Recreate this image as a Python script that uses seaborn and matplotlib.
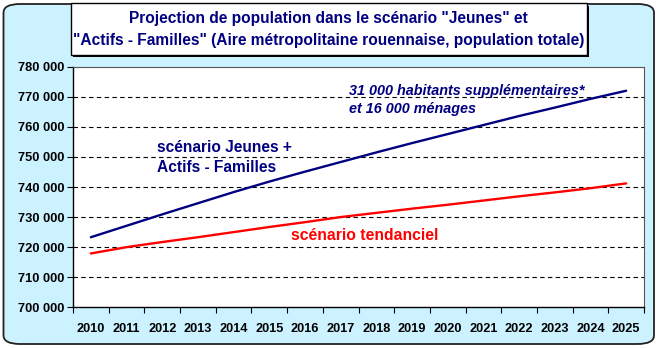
import matplotlib
matplotlib.use("Agg")
import matplotlib.pyplot as plt
import seaborn as sns
import pandas as pd
from matplotlib.patches import FancyBboxPatch, Rectangle
from matplotlib.ticker import FuncFormatter

years = [2010, 2011, 2012, 2013, 2014, 2015, 2016, 2017,
         2018, 2019, 2020, 2021, 2022, 2023, 2024, 2025]
jeunes_actifs = [723300, 727100, 730900, 734600, 738300, 741800, 745100, 748300,
                 751500, 754600, 757600, 760600, 763600, 766400, 769300, 772000]
tendanciel = [717900, 720000, 721700, 723300, 725000, 726700, 728300, 730000,
              731400, 732800, 734100, 735500, 736900, 738200, 739600, 741200]
y_ticks = [700000, 710000, 720000, 730000, 740000, 750000, 760000, 770000, 780000]

sns.set_theme(style="white")
plt.rcParams['font.family'] = ['Liberation Sans', 'DejaVu Sans']

W, H = 660, 348
fig = plt.figure(figsize=(W / 100, H / 100), dpi=100)
fig.patch.set_facecolor('white')

# outer rounded background
bg = FancyBboxPatch((3.5 / W, 4 / H), (654 - 3.5) / W, (346 - 4 - 2) / H,
                    boxstyle="round,pad=0,rounding_size=0.025",
                    transform=fig.transFigure, facecolor='#CCF2FF',
                    edgecolor='#222222', linewidth=1.3, zorder=-10)
fig.patches.append(bg)

# title box with shadow
bx0, bx1, by0, by1 = 70.7, 586.7, 3.5, 54.5
shadow = Rectangle(((bx0 + 2.5) / W, 1 - (by1 + 2.5) / H), (bx1 - bx0) / W, (by1 - by0) / H,
                   transform=fig.transFigure, facecolor='black', edgecolor='none', zorder=-5)
fig.patches.append(shadow)
tbox = Rectangle((bx0 / W, 1 - by1 / H), (bx1 - bx0) / W, (by1 - by0) / H,
                 transform=fig.transFigure, facecolor='white', edgecolor='black',
                 linewidth=1.0, zorder=-4)
fig.patches.append(tbox)
fig.text((bx0 + bx1) / 2 / W, 1 - 18.5 / H,
         'Projection de population dans le scénario "Jeunes" et',
         ha='center', va='center', fontsize=11.2, fontweight='bold', color='#000080', zorder=3)
fig.text((bx0 + bx1) / 2 / W, 1 - 40.5 / H,
         '"Actifs - Familles" (Aire métropolitaine rouennaise, population totale)',
         ha='center', va='center', fontsize=11.2, fontweight='bold', color='#000080', zorder=3)

left, right, top, bottom = 73, 644, 66.7, 307.3
ax = fig.add_axes([left / W, 1 - bottom / H, (right - left) / W, (bottom - top) / H])
ax.set_zorder(5)
ax.set_facecolor('white')

df = pd.DataFrame({
    'pos': list(range(len(years))) * 2,
    'pop': jeunes_actifs + tendanciel,
    'serie': ['Jeunes + Actifs - Familles'] * len(years) + ['tendanciel'] * len(years),
})
sns.lineplot(data=df, x='pos', y='pop', hue='serie',
             palette={'Jeunes + Actifs - Familles': '#000080', 'tendanciel': '#FF0000'},
             linewidth=1.7, legend=False, ax=ax, zorder=3)

ax.set_xlim(-0.5, len(years) - 0.5)
ax.set_ylim(700000, 780000)
ax.set_yticks(y_ticks)
ax.yaxis.set_major_formatter(FuncFormatter(lambda v, p: f"{int(v):,}".replace(',', ' ')))
ax.set_xticks(range(len(years)))
ax.set_xticklabels([str(y) for y in years])
ax.set_xticks([i - 0.5 for i in range(len(years) + 1)], minor=True)
ax.tick_params(axis='x', which='major', length=0, pad=11, labelsize=9.2)
ax.tick_params(axis='x', which='minor', length=4, width=0.8, color='black', direction='out')
ax.tick_params(axis='y', which='major', length=4, width=0.8, color='black', direction='out',
               labelsize=9.3, pad=2)
ax.yaxis.set_ticks_position('left')
ax.xaxis.set_ticks_position('bottom')
for lab in ax.get_xticklabels() + ax.get_yticklabels():
    lab.set_fontweight('bold')
    lab.set_color('black')
ax.set_xlabel('')
ax.set_ylabel('')

for v in y_ticks[1:-1]:
    ax.axhline(v, color='black', linestyle=(0, (4, 3)), linewidth=0.8, zorder=1)

for s in ['left', 'bottom']:
    ax.spines[s].set_color('black')
    ax.spines[s].set_linewidth(1.0)
for s in ['top', 'right']:
    ax.spines[s].set_color('#555555')
    ax.spines[s].set_linewidth(0.8)

ax.text(1.85, 749800, 'scénario Jeunes +\nActifs - Familles', fontsize=11.2, fontweight='bold',
        color='#000080', ha='left', va='center', linespacing=1.45)
ax.text(7.23, 769000, '31 000 habitants supplémentaires*\net 16 000 ménages', fontsize=10.35,
        fontweight='bold', fontstyle='italic', color='#000080', ha='left', va='center',
        linespacing=1.38)
ax.text(5.6, 723800, 'scénario tendanciel', fontsize=11.3, fontweight='bold',
        color='#FF0000', ha='left', va='center')

fig.savefig('out.png', dpi=100)
